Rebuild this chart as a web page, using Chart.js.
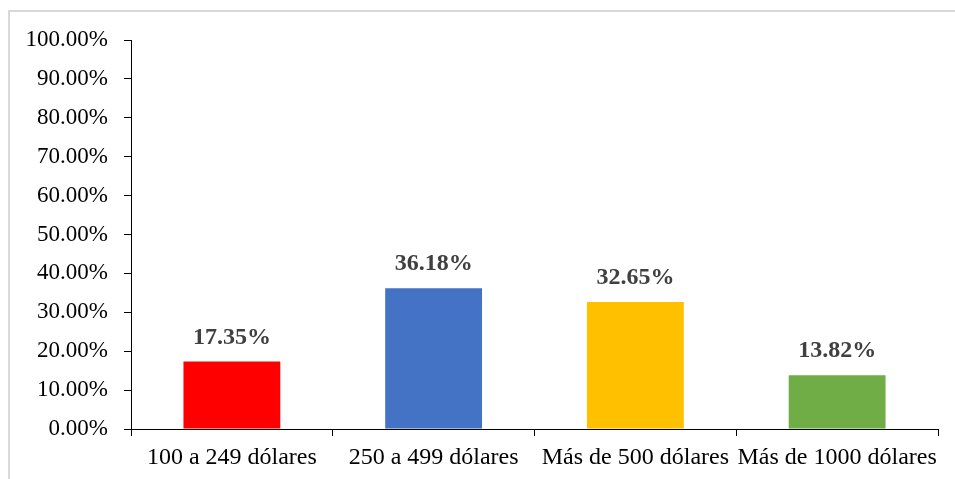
<!DOCTYPE html>
<html>
<head>
<meta charset="utf-8">
<script src="https://cdn.jsdelivr.net/npm/chart.js@4"></script>
<style>
    html, body { margin: 0; padding: 0; background: #fff; }
    body { width: 955px; height: 479px; position: relative; overflow: hidden; }
    #frame {
        position: absolute; left: 8px; top: 10px; right: 0; bottom: -10px;
        border-left: 2px solid #d9d9d9; border-top: 2px solid #d9d9d9;
    }
    #wrap { position: absolute; left: 0; top: 0; width: 955px; height: 479px; }
</style>
</head>
<body>
<div id="frame"></div>
<div id="wrap"><canvas id="gastoChart"></canvas></div>
<script>
// datos
const categories = ['100 a 249 dólares', '250 a 499 dólares', 'Más de 500 dólares', 'Más de 1000 dólares'];
const values = [17.35, 36.18, 32.65, 13.82];
const barColors = ['#FF0000', '#4472C4', '#FFC000', '#70AD47'];
const yMin = 0;
const yMax = 100;
const yStep = 10;

const FONT = '"Liberation Serif", "Times New Roman", serif';

// etiquetas encima de las barras
const valueLabels = {
    id: 'valueLabels',
    afterDatasetsDraw(chart) {
        const c = chart.ctx;
        const meta = chart.getDatasetMeta(0);
        c.save();
        c.font = 'bold 24px ' + FONT;
        c.fillStyle = '#404040';
        c.textAlign = 'center';
        c.textBaseline = 'middle';
        meta.data.forEach((bar, i) => {
            c.fillText(values[i].toFixed(2) + '%', bar.x, bar.y - 24);
        });
        c.restore();
    }
};

const config = {
    type: 'bar',
    data: {
        labels: categories,
        datasets: [{
            data: values,
            backgroundColor: barColors,
            borderWidth: 0,
            categoryPercentage: 1,
            barPercentage: 0.48
        }]
    },
    options: {
        responsive: true,
        maintainAspectRatio: false,
        animation: false,
        layout: {
            padding: { top: 40, right: 17, bottom: 0, left: 0 }
        },
        plugins: {
            legend: { display: false },
            tooltip: { enabled: false }
        },
        scales: {
            x: {
                grid: {
                    drawOnChartArea: false,
                    drawTicks: true,
                    tickLength: 7,
                    color: '#000',
                    offset: true
                },
                border: { color: '#000', width: 1 },
                ticks: {
                    color: '#000',
                    font: { family: FONT, size: 24 },
                    padding: 7,
                    maxRotation: 0,
                    autoSkip: false
                },
                afterFit(scale) { scale.height = 50; }
            },
            y: {
                min: yMin,
                max: yMax,
                grid: {
                    drawOnChartArea: false,
                    drawTicks: true,
                    tickLength: 7,
                    color: '#000'
                },
                border: { color: '#000', width: 1 },
                ticks: {
                    stepSize: yStep,
                    color: '#000',
                    font: { family: FONT, size: 23 },
                    padding: 16,
                    callback: v => v.toFixed(2) + '%'
                },
                afterFit(scale) { scale.width = 131; }
            }
        }
    },
    plugins: [valueLabels]
};

new Chart(document.getElementById('gastoChart').getContext('2d'), config);
</script>
</body>
</html>
